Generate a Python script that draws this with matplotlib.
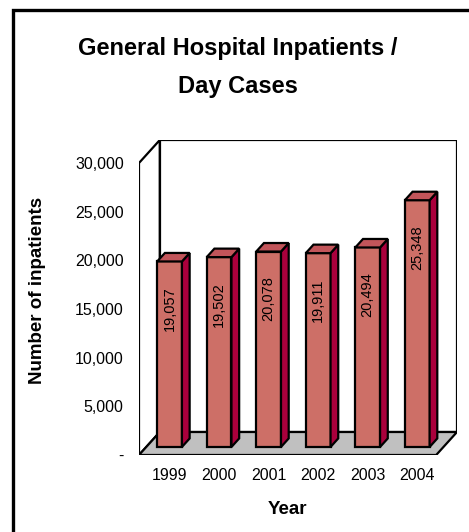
import numpy as np
import matplotlib.pyplot as plt
from matplotlib.patches import Polygon, Rectangle

years = ['1999', '2000', '2001', '2002', '2003', '2004']
inpatients = [19057, 19502, 20078, 19911, 20494, 25348]
yticks = [0, 5000, 10000, 15000, 20000, 25000, 30000]

plt.rcParams['font.family'] = ['Liberation Sans', 'DejaVu Sans']

front_col = '#CD6F67'
side_col = '#AA003C'
top_col = '#C2555A'
floor_col = '#C0C0C0'

W, H = 469, 532
fig = plt.figure(figsize=(W / 100, H / 100), dpi=100)
fig.patch.set_facecolor('white')

# axes placed so the front plane and the back wall land where the reference has them
ax = fig.add_axes([139 / W, 1 - 455 / H, (457 - 139) / W, (455 - 140) / H])
n = len(years)
ymax = 30000
DX = 0.42       # depth shift in category units
DY = 2363       # depth shift in value units
ax.set_xlim(0, n + DX)
ax.set_ylim(0, ymax + DY)
for s in ax.spines.values():
    s.set_visible(False)
ax.set_facecolor('none')

lw = 1.6
# left wall, back wall, floor
ax.add_patch(Polygon([(0, 0), (DX, DY), (DX, ymax + DY), (0, ymax)], closed=True,
                     facecolor='white', edgecolor='black', lw=lw, zorder=1))
ax.add_patch(Polygon([(DX, DY), (n + DX, DY), (n + DX, ymax + DY), (DX, ymax + DY)], closed=True,
                     facecolor='white', edgecolor='black', lw=lw, zorder=1))
ax.add_patch(Polygon([(0, 0), (n, 0), (n + DX, DY), (DX, DY)], closed=True,
                     facecolor=floor_col, edgecolor='black', lw=lw, zorder=2))

# 3d-looking bars
f0, f1 = 0.35, 0.72
bw = 0.5
lefts = np.arange(n) + 0.22
ax.bar(lefts + f0 * DX, inpatients, width=bw, bottom=f0 * DY, align='edge',
       color=front_col, edgecolor='black', lw=lw, zorder=3)
for x0, v in zip(lefts, inpatients):
    x1 = x0 + bw
    ax.add_patch(Polygon([(x1 + f0 * DX, f0 * DY), (x1 + f1 * DX, f1 * DY),
                          (x1 + f1 * DX, v + f1 * DY), (x1 + f0 * DX, v + f0 * DY)],
                         closed=True, facecolor=side_col, edgecolor='black', lw=lw, zorder=3))
    ax.add_patch(Polygon([(x0 + f0 * DX, v + f0 * DY), (x1 + f0 * DX, v + f0 * DY),
                          (x1 + f1 * DX, v + f1 * DY), (x0 + f1 * DX, v + f1 * DY)],
                         closed=True, facecolor=top_col, edgecolor='black', lw=lw, zorder=3))
    ax.annotate(f'{v:,}', (x0 + f0 * DX + bw / 2, v + f0 * DY), xytext=(0, -18),
                textcoords='offset points', rotation=90, ha='center', va='top',
                fontsize=10.5, zorder=4)

ax.set_yticks(yticks)
ax.set_yticklabels(['-' if t == 0 else f'{t:,}' for t in yticks])
ax.set_xticks(lefts + f0 * DX + bw / 2)
ax.set_xticklabels(years)
ax.tick_params(axis='y', length=0, pad=11, labelsize=11.5)
ax.tick_params(axis='x', length=0, pad=9, labelsize=11.5)

ax.set_xlabel('Year', fontsize=13.5, fontweight='bold')
ax.xaxis.set_label_coords(n / 2 / (n + DX), -0.146)
fig.text(38 / W, 1 - 290 / H, 'Number of inpatients', rotation=90, ha='center', va='center',
         fontsize=13.5, fontweight='bold')

fig.text(238 / W, 1 - 48 / H, 'General Hospital Inpatients /', ha='center', va='center',
         fontsize=17, fontweight='bold')
fig.text(238 / W, 1 - 86 / H, 'Day Cases', ha='center', va='center',
         fontsize=17, fontweight='bold')

# chart frame
fig.patches.append(Rectangle((13 / W, -0.1), 1.2, 1 - 10 / H + 0.1, transform=fig.transFigure,
                             facecolor='none', edgecolor='black', lw=2.4))

fig.savefig('out.png', dpi=100)
